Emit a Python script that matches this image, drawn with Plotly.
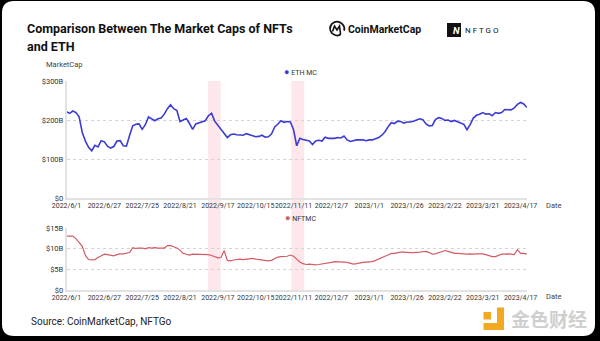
import plotly.graph_objects as go

# ---- data -------------------------------------------------------------
tick_labels = ["2022/6/1", "2022/6/27", "2022/7/25", "2022/8/21", "2022/9/17",
               "2022/10/15", "2022/11/11", "2022/12/7", "2023/1/1", "2023/1/26",
               "2023/2/22", "2023/3/21", "2023/4/17"]
tick_step = 12  # one labelled date every 12 samples

# ETH market cap, $B
eth_mc = [221, 217, 223, 219, 208, 168, 146, 130, 121, 135,
          131, 147, 144, 133, 128, 132, 146, 147, 134, 133,
          160, 185, 189, 190, 176, 188, 208, 204, 198, 203,
          205, 215, 229, 239, 229, 224, 196, 200, 204, 191,
          176, 190, 193, 194, 198, 211, 217, 197, 186, 177,
          163, 155, 162, 164, 162, 162, 161, 165, 162, 158,
          157, 158, 161, 156, 157, 164, 182, 189, 198, 194,
          196, 195, 175, 134, 153, 150, 148, 146, 137, 146,
          148, 146, 156, 153, 153, 153, 155, 154, 159, 149,
          145, 147, 149, 149, 149, 147, 149, 149, 152, 155,
          161, 170, 183, 193, 191, 197, 196, 192, 195, 195,
          197, 200, 203, 201, 190, 185, 186, 201, 206, 204,
          199, 200, 196, 199, 195, 193, 189, 175, 188, 205,
          212, 215, 219, 215, 216, 211, 219, 217, 219, 227,
          227, 226, 231, 240, 245, 241, 232]

# NFT market cap, $B
nft_mc = [13.1, 13.1, 13.1, 12.5, 11.6, 10.6, 8.4, 7.4, 7.3, 7.4,
          7.9, 8.4, 8.7, 8.6, 8.5, 8.3, 8.6, 8.8, 8.8, 9.0,
          9.1, 10.3, 10.1, 10.2, 10.2, 10.0, 10.3, 10.2, 10.3, 10.2,
          10.2, 10.2, 10.8, 10.8, 10.5, 10.2, 9.7, 8.9, 8.7, 8.5,
          8.7, 8.7, 8.6, 8.6, 8.6, 8.6, 8.4, 8.1, 7.8, 7.9,
          9.6, 7.2, 7.1, 7.3, 7.4, 7.5, 7.4, 7.5, 7.6, 7.7,
          7.5, 7.4, 7.3, 7.2, 7.1, 7.2, 7.7, 8.0, 8.1, 8.2,
          8.2, 8.5, 8.2, 7.5, 6.8, 6.4, 6.2, 6.3, 6.2, 6.1,
          6.2, 6.3, 6.4, 6.5, 6.7, 6.9, 6.9, 6.8, 6.8, 6.7,
          6.5, 6.3, 6.4, 6.6, 6.7, 6.8, 6.8, 6.9, 7.2, 7.6,
          7.9, 8.2, 8.5, 8.9, 8.9, 9.1, 9.2, 9.2, 9.1, 9.1,
          9.1, 9.1, 9.2, 9.3, 9.4, 9.1, 8.7, 8.8, 9.1, 9.4,
          9.6, 9.4, 9.1, 8.9, 8.9, 8.8, 8.8, 8.7, 8.8, 8.7,
          8.8, 8.8, 8.8, 8.6, 8.4, 8.1, 8.1, 8.5, 8.7, 8.7,
          8.8, 8.7, 8.6, 9.8, 8.9, 8.9, 8.7]

# highlighted periods (sample positions)
shade_periods = [(44.9, 48.9), (71.3, 75.4)]

eth_ticks = [0, 100, 200, 300]
eth_tick_text = ["$0", "$100B", "$200B", "$300B"]
nft_ticks = [0, 5, 10, 15]
nft_tick_text = ["$0", "$5B", "$10B", "$15B"]

# ---- layout helpers -----------------------------------------------------
W, H = 600, 341


def px(x):
    return x / W


def py(y):
    return 1 - y / H


ETH_COLOR = "#3c3cd4"
NFT_COLOR = "#d45a63"
SHADE = "#fde7ea"
GRID = "#d4d4d4"
AXIS = "#e2e2e2"
TXT = "#333333"
FONT = "Roboto"

x_dom = [px(66.5), px(526.9)]
n = len(eth_mc)
xs = list(range(n))
tickvals = list(range(0, n, tick_step))[:len(tick_labels)]

fig = go.Figure()
fig.add_trace(go.Scatter(x=xs, y=eth_mc, mode="lines", name="ETH MC",
                         line=dict(color=ETH_COLOR, width=1.6),
                         xaxis="x", yaxis="y", showlegend=False))
fig.add_trace(go.Scatter(x=xs, y=nft_mc, mode="lines", name="NFTMC",
                         line=dict(color=NFT_COLOR, width=1.2),
                         xaxis="x2", yaxis="y2", showlegend=False))

common_x = dict(domain=x_dom, range=[0, n - 1], tickmode="array",
                tickvals=tickvals, ticktext=tick_labels, showgrid=False,
                zeroline=False, showline=True, linecolor=AXIS, linewidth=2,
                ticks="", tickangle=0,
                tickfont=dict(family=FONT, size=7, color=TXT))
common_y = dict(showgrid=True, gridcolor=GRID, griddash="dot", gridwidth=1,
                zeroline=False, showline=True, linecolor=AXIS, linewidth=1.5,
                ticks="", tickfont=dict(family=FONT, size=7.5, color=TXT))

shapes = []
# card background with rounded corners
r = 12
x0, x1, y0, y1 = 2, 595, 1, 336
path = (f"M {px(x0 + r)} {py(y0)} L {px(x1 - r)} {py(y0)} "
        f"Q {px(x1)} {py(y0)} {px(x1)} {py(y0 + r)} "
        f"L {px(x1)} {py(y1 - r)} Q {px(x1)} {py(y1)} {px(x1 - r)} {py(y1)} "
        f"L {px(x0 + r)} {py(y1)} Q {px(x0)} {py(y1)} {px(x0)} {py(y1 - r)} "
        f"L {px(x0)} {py(y0 + r)} Q {px(x0)} {py(y0)} {px(x0 + r)} {py(y0)} Z")
shapes.append(dict(type="path", path=path, xref="paper", yref="paper",
                   fillcolor="white", line=dict(width=0), layer="below"))
# highlighted periods spanning both panels
for a, b in shade_periods:
    shapes.append(dict(type="rect", xref="x", yref="paper", x0=a, x1=b,
                       y0=py(290), y1=py(81), fillcolor=SHADE,
                       line=dict(width=0), layer="below"))

# CoinMarketCap mark
cx, cy, cr = 337, 28.5, 7
shapes.append(dict(type="path", xref="paper", yref="paper",
                   path=(f"M {px(cx + cr * 0.55)} {py(cy + cr * 0.83)} "
                         f"Q {px(cx)} {py(cy + cr * 1.25)} {px(cx - cr * 0.7)} {py(cy + cr * 0.7)} "
                         f"Q {px(cx - cr * 1.3)} {py(cy)} {px(cx - cr * 0.7)} {py(cy - cr * 0.7)} "
                         f"Q {px(cx)} {py(cy - cr * 1.25)} {px(cx + cr * 0.7)} {py(cy - cr * 0.7)} "
                         f"Q {px(cx + cr * 1.2)} {py(cy - cr * 0.2)} {px(cx + cr)} {py(cy + cr * 0.3)}"),
                   line=dict(color="#111", width=1.8)))
shapes.append(dict(type="path", xref="paper", yref="paper",
                   path=(f"M {px(cx - 4.5)} {py(cy + 3)} L {px(cx - 2.5)} {py(cy - 2.5)} "
                         f"L {px(cx)} {py(cy + 1.5)} L {px(cx + 2.5)} {py(cy - 2.5)} "
                         f"L {px(cx + 3.5)} {py(cy + 5.5)}"),
                   line=dict(color="#111", width=1.6)))
# NFTGO mark
shapes.append(dict(type="rect", xref="paper", yref="paper",
                   x0=px(447), x1=px(461), y0=py(37), y1=py(23),
                   fillcolor="#111", line=dict(width=0)))
# watermark mark
for (a, b, c, d) in [(483.5, 312, 491, 319.5), (497, 307.5, 504, 330), (483.5, 323, 504, 330)]:
    shapes.append(dict(type="rect", xref="paper", yref="paper",
                       x0=px(a), x1=px(c), y0=py(d), y1=py(b),
                       fillcolor="#f2a91f", line=dict(width=0)))

ann = []


def text(x, y, s, size, color=TXT, anchor="left", family=FONT, yanchor="middle"):
    ann.append(dict(x=px(x), y=py(y), xref="paper", yref="paper", text=s,
                    showarrow=False, xanchor=anchor, yanchor=yanchor,
                    font=dict(family=family, size=size, color=color)))


text(25, 28, "<b>Comparison Between The Market Caps of NFTs</b>", 12.5, "#111")
text(25, 46.5, "<b>and ETH</b>", 12.5, "#111")
text(346, 29.5, "<b>CoinMarketCap</b>", 10.5, "#111")
text(450.5, 30, "<b><i>N</i></b>", 9.5, "white")
text(463, 30.5, "N F T G O", 8, "#111")
text(44, 64, "MarketCap", 7.5, "#444")
text(300, 72, f"<span style='color:{ETH_COLOR};font-size:9px'>●</span> ETH MC", 7, TXT, "center")
text(300, 218, f"<span style='color:{NFT_COLOR};font-size:9px'>●</span> NFTMC", 7, TXT, "center")
text(544, 205, "Date", 7.5, "#444")
text(544, 296.5, "Date", 7.5, "#444")
text(29, 321, "Source: CoinMarketCap, NFTGo", 10, "#222")
text(509, 318, "<b>金色财经</b>", 19, "#cfcfcf", family="Noto Sans CJK SC")

fig.update_layout(
    width=W, height=H,
    margin=dict(l=0, r=0, t=0, b=0, autoexpand=False),
    paper_bgcolor="black", plot_bgcolor="rgba(0,0,0,0)",
    xaxis=dict(anchor="y", **common_x),
    yaxis=dict(domain=[py(198), py(81)], range=[0, 300], tickvals=eth_ticks,
               ticktext=eth_tick_text, anchor="x", **common_y),
    xaxis2=dict(anchor="y2", **common_x),
    yaxis2=dict(domain=[py(290), py(228.3)], range=[0, 15], tickvals=nft_ticks,
                ticktext=nft_tick_text, anchor="x2", **common_y),
    shapes=shapes, annotations=ann, showlegend=False,
)

fig.write_html("out.html")
